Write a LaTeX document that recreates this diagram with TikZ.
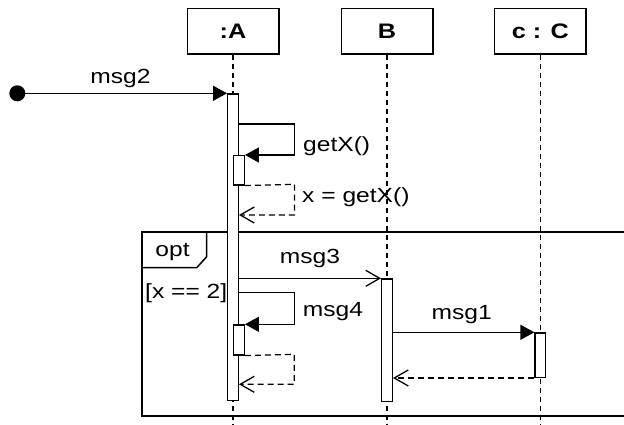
\documentclass[tikz,border=0pt]{standalone}
\usepackage{fontspec}
\setmainfont{Liberation Sans}
\newfontfamily\lab[FakeStretch=1.2]{Liberation Sans}
\usetikzlibrary{arrows.meta}
\begin{document}
\begin{tikzpicture}[x=1pt,y=-1pt,
  head/.style={draw,line width=1.4pt,minimum width=91.6pt,minimum height=45.3pt,inner sep=0pt,fill=white,
    font=\lab\fontsize{21}{24}\selectfont\bfseries},
  life/.style={line width=1.1pt,dash pattern=on 5pt off 4pt},
  bar/.style={draw,fill=white,line width=1.3pt,minimum width=10.6pt,inner sep=0pt,anchor=north},
  lbl/.style={inner sep=0pt,font=\lab\fontsize{20.5}{24}\selectfont},
  msg/.style={line width=1.3pt,-{Triangle[length=14pt,width=15pt]}},
  ret/.style={line width=1.3pt,dash pattern=on 6pt off 4pt,-{Straight Barb[length=14pt,width=16pt,line width=1.3pt]}},
  async/.style={line width=1.3pt,-{Straight Barb[length=14pt,width=16pt,line width=1.3pt]}}
]
\useasboundingbox (0,0) rectangle (624,425);
\clip (0,0) rectangle (624,425);
\fill[white] (0,0) rectangle (624,425);

% lifeline heads
\node[head] (A) at (233,31.3) {:A};
\node[head] (B) at (387,31.3) {B};
\node[head] (C) at (540.3,31.3) {c : C};
\coordinate (Aend) at (233,430);
\coordinate (Bend) at (387,430);
\coordinate (Cend) at (540.3,430);
\draw[life] (A.south) -- (Aend);
\draw[life] (B.south) -- (Bend);
\draw[life] (C.south) -- (Cend);

% opt frame
\draw[line width=2pt] (141.7,232.3) rectangle (650,416);
\draw[line width=1.5pt] (141.7,267.7) -- (196.7,267.7) -- (206.7,256.7) -- (206.7,232.3);
\node[lbl,anchor=base] (opt) at (172.5,256.7) {opt};
\node[lbl,anchor=base west] (guard) at (145,298) {[x == 2]};

% activation bars
\node[bar,minimum height=306.7pt] (barA) at (233,93.3) {};
\node[bar,minimum height=122.4pt] (barB) at (387,278.3) {};
\node[bar,minimum height=44.4pt] (barC) at (540.3,332.3) {};
\node[bar,minimum width=11pt,minimum height=29.3pt] (nA1) at (238.8,155) {};
\node[bar,minimum width=11pt,minimum height=30pt] (nA2) at (238.8,324.3) {};

% found message msg2
\node[circle,fill=black,inner sep=0pt,minimum size=16pt] (start) at (17.3,93.3) {};
\draw[msg] (start.center) -- (barA.north west);
\node[lbl,anchor=base] (m2) at (120.5,83.3) {msg2};

% getX self call
\draw[msg] (barA.east |- 0,124) -- (294.5,124) |- (nA1.north east);
\node[lbl,anchor=base west] (g1) at (303,151.7) {getX()};
\draw[ret] (nA1.south east) -- (294.5,184.3) |- (barA.east |- 0,215);
\node[lbl,anchor=base west] (g2) at (302,202.5) {x = getX()};

% msg3
\draw[async] (barA.east |- barB.north) -- (barB.north west);
\node[lbl,anchor=base] (m3) at (310,263.3) {msg3};

% msg4 self call
\draw[msg] (barA.east |- 0,292.7) -- (294.3,292.7) |- (nA2.north east);
\node[lbl,anchor=base west] (m4) at (302.7,316.7) {msg4};
\draw[ret] (nA2.south east) -- (294.3,354.3) |- (barA.east |- 0,384.3);

% msg1
\draw[msg] (barB.east |- barC.north) -- (barC.north west);
\node[lbl,anchor=base] (m1) at (461.7,319.3) {msg1};
\draw[ret] (barC.south west) -- (barB.east |- barC.south);
\end{tikzpicture}
\end{document}
